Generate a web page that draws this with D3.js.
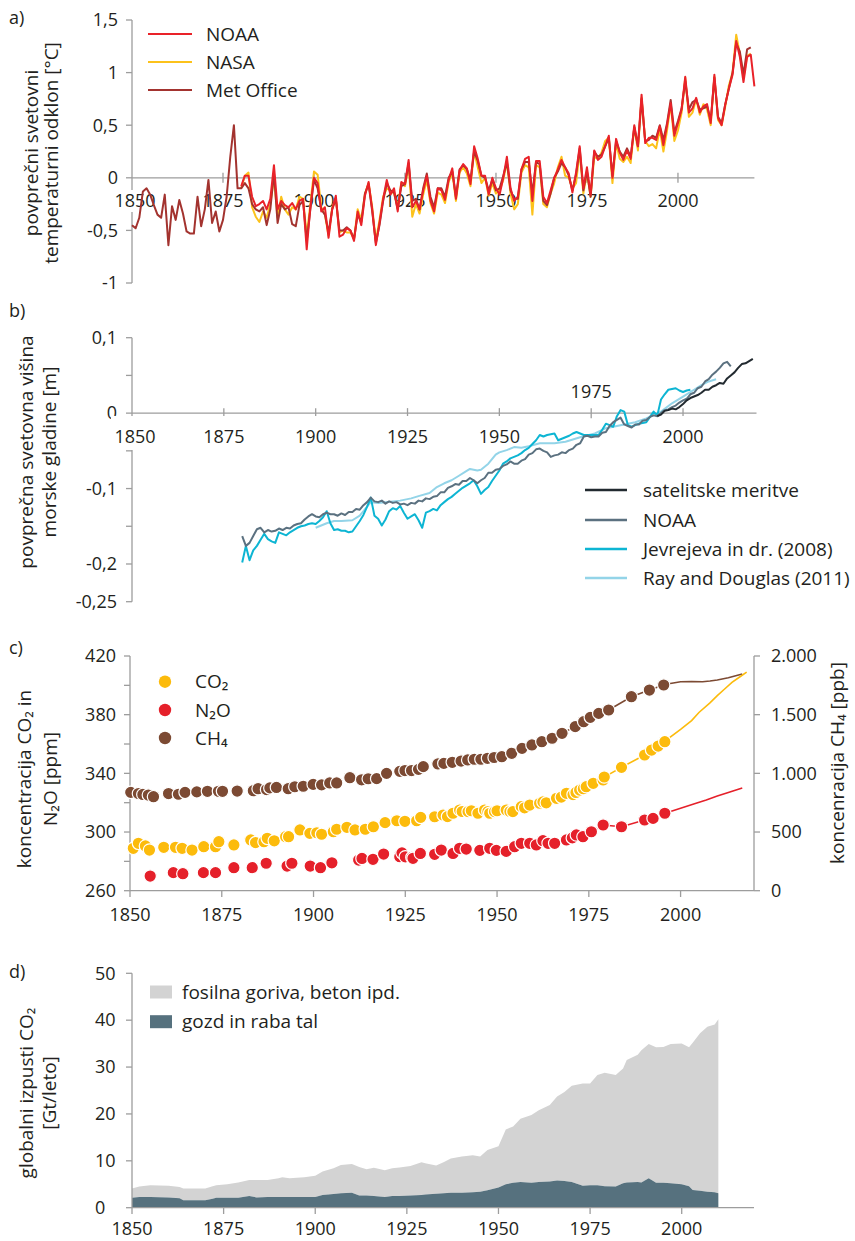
<!DOCTYPE html>
<html><head><meta charset="utf-8">
<script src="https://cdn.jsdelivr.net/npm/d3@7"></script>
<style>
body{margin:0;background:#fff;}
text{font-family:"Open Sans","Noto Sans",sans-serif;fill:#231f20;}
</style></head><body>
<svg id="c" width="855" height="1241"></svg>
<script>
// ---------- Panel a: temperature anomaly ----------
const tempStartMet = 1850;
const tempStartUS = 1880;
const metOffice = [
 -0.45,-0.48,-0.38,-0.13,-0.10,-0.16,-0.26,-0.35,-0.38,-0.16,
 -0.64,-0.27,-0.40,-0.21,-0.34,-0.51,-0.53,-0.53,-0.18,-0.46,
 -0.30,-0.02,-0.43,-0.32,-0.51,-0.40,-0.18,0.20,0.50,-0.10,
 -0.10,-0.05,-0.10,-0.25,-0.30,-0.32,-0.28,-0.45,-0.30,0.05,
 -0.43,-0.25,-0.30,-0.28,-0.44,-0.46,-0.26,-0.22,-0.60,-0.30,
 -0.02,-0.10,-0.30,-0.35,-0.52,-0.30,-0.20,-0.50,-0.50,-0.47,
 -0.50,-0.58,-0.35,-0.42,-0.15,-0.06,-0.32,-0.62,-0.45,-0.22,
 -0.05,-0.12,-0.14,-0.30,-0.08,-0.06,0.14,-0.22,-0.20,-0.30,
 -0.10,0.04,-0.18,-0.28,-0.10,-0.10,-0.18,0.00,0.06,-0.18,
 0.08,0.12,0.08,-0.02,0.25,0.16,0.02,0.00,-0.12,-0.02,
 -0.12,-0.10,0.02,0.15,-0.12,-0.20,-0.20,0.08,0.15,0.15,
 -0.15,0.15,0.13,-0.22,-0.26,-0.15,0.00,0.06,0.14,0.10,
 0.02,-0.12,0.03,0.28,-0.12,0.06,-0.18,0.25,0.20,0.22,
 0.30,0.38,0.02,0.35,0.25,0.20,0.28,0.20,0.48,0.30,
 0.75,0.35,0.36,0.40,0.38,0.50,0.36,0.52,0.74,0.43,
 0.54,0.66,0.92,0.65,0.72,0.74,0.65,0.66,0.68,0.55,
 0.95,0.58,0.52,0.70,0.85,1.00,1.28,1.20,0.98,1.22,
 1.24];
const nasa = [
 -0.10,0.02,0.05,-0.28,-0.37,-0.42,-0.32,-0.38,-0.25,0.00,
 -0.38,-0.18,-0.30,-0.35,-0.28,-0.30,-0.18,-0.20,-0.55,-0.25,
 0.06,0.03,-0.28,-0.35,-0.55,-0.28,-0.20,-0.52,-0.50,-0.52,
 -0.52,-0.58,-0.30,-0.40,-0.15,-0.05,-0.28,-0.60,-0.40,-0.18,
 -0.10,-0.12,-0.15,-0.28,-0.05,-0.08,0.12,-0.37,-0.25,-0.34,
 -0.16,-0.02,-0.24,-0.34,-0.14,-0.16,-0.24,-0.04,0.05,-0.22,
 0.05,0.10,0.04,-0.08,0.25,0.10,-0.05,0.00,-0.17,-0.05,
 -0.15,-0.12,-0.02,0.15,-0.15,-0.30,-0.25,0.05,0.12,0.10,
 -0.35,0.12,0.10,-0.25,-0.28,-0.15,-0.05,0.10,0.20,0.02,
 0.00,-0.10,-0.05,0.25,-0.15,0.05,-0.18,0.20,0.18,0.24,
 0.35,0.38,-0.05,0.33,0.18,0.15,0.20,0.14,0.48,0.26,
 0.76,0.35,0.30,0.32,0.28,0.46,0.25,0.45,0.70,0.35,
 0.45,0.62,0.95,0.58,0.62,0.75,0.60,0.70,0.65,0.50,
 0.96,0.55,0.50,0.68,0.88,1.00,1.36,1.18,0.95,1.16,
 1.18];
const noaa = [
 -0.08,0.02,0.02,-0.18,-0.27,-0.25,-0.22,-0.30,-0.20,0.12,
 -0.30,-0.22,-0.26,-0.28,-0.24,-0.30,-0.22,-0.20,-0.68,-0.28,
 0.00,-0.05,-0.32,-0.28,-0.57,-0.30,-0.17,-0.56,-0.54,-0.48,
 -0.50,-0.60,-0.32,-0.45,-0.17,-0.04,-0.30,-0.64,-0.43,-0.20,
 -0.02,-0.16,-0.10,-0.32,-0.04,-0.06,0.17,-0.28,-0.22,-0.30,
 -0.12,0.02,-0.22,-0.32,-0.10,-0.12,-0.21,-0.02,0.09,-0.20,
 0.07,0.13,0.09,-0.06,0.30,0.18,0.02,0.02,-0.16,0.00,
 -0.10,-0.16,0.00,0.20,-0.10,-0.22,-0.18,0.08,0.18,0.20,
 -0.22,0.16,0.16,-0.18,-0.24,-0.12,0.00,0.08,0.17,0.10,
 0.04,-0.14,0.05,0.30,-0.10,0.10,-0.16,0.26,0.17,0.20,
 0.30,0.40,0.00,0.37,0.24,0.17,0.26,0.18,0.50,0.30,
 0.79,0.33,0.38,0.38,0.36,0.49,0.31,0.50,0.71,0.40,
 0.52,0.65,0.96,0.62,0.66,0.76,0.62,0.68,0.70,0.52,
 0.98,0.57,0.50,0.70,0.85,0.98,1.30,1.15,0.91,1.15,
 1.17,0.87];
const tempTicks = [1.5,1,0.5,0,-0.5,-1];
const tempTickLabels = ["1,5","1","0,5","0","-0,5","-1"];
const yearTicks = [1850,1875,1900,1925,1950,1975,2000];

// ---------- Panel b: sea level ----------
const jevYears = [1880,1881,1882,1883,1884,1885,1886,1887,1888,1889,1890,1891,1892,1893,1894,1895,1896,1897,1898,1899,1900,1901,1902,1903,1904,1905,1906,1907,1908,1909,1910,1911,1912,1913,1914,1915,1916,1917,1918,1919,1920,1921,1922,1923,1924,1925,1926,1927,1928,1929,1930,1931,1932,1933,1934,1935,1936,1937,1938,1939,1940,1941,1942,1943,1944,1945,1946,1947,1948,1949,1950,1951,1952,1953,1954,1955,1956,1957,1958,1959,1960,1961,1962,1963,1964,1965,1966,1967,1968,1969,1970,1971,1972,1973,1974,1975,1976,1977,1978,1979,1980,1981,1982,1983,1984,1985,1986,1987,1988,1989,1990,1991,1992,1993,1994,1995,1996,1997,1998,1999,2000,2001,2002];
const jevValues = [-0.198,-0.176,-0.195,-0.182,-0.176,-0.168,-0.160,-0.167,-0.170,-0.172,-0.158,-0.160,-0.162,-0.158,-0.155,-0.152,-0.150,-0.149,-0.147,-0.146,-0.147,-0.143,-0.138,-0.130,-0.146,-0.155,-0.154,-0.156,-0.156,-0.158,-0.157,-0.150,-0.143,-0.135,-0.124,-0.112,-0.136,-0.140,-0.149,-0.141,-0.130,-0.126,-0.128,-0.123,-0.132,-0.140,-0.137,-0.134,-0.142,-0.152,-0.132,-0.130,-0.127,-0.129,-0.122,-0.118,-0.114,-0.111,-0.107,-0.103,-0.099,-0.096,-0.093,-0.089,-0.097,-0.107,-0.102,-0.098,-0.090,-0.083,-0.076,-0.067,-0.064,-0.060,-0.058,-0.056,-0.053,-0.049,-0.046,-0.041,-0.036,-0.029,-0.031,-0.029,-0.028,-0.027,-0.036,-0.034,-0.032,-0.030,-0.027,-0.025,-0.027,-0.029,-0.029,-0.029,-0.029,-0.029,-0.022,-0.014,-0.016,-0.018,-0.004,0.004,0.002,-0.016,-0.018,-0.016,-0.014,-0.013,-0.012,-0.005,0.002,-0.003,0.018,0.025,0.031,0.032,0.033,0.030,0.028,0.030,0.031];
const slNoaaYears = [1880,1881,1882,1883,1884,1885,1886,1887,1888,1889,1890,1891,1892,1893,1894,1895,1896,1897,1898,1899,1900,1901,1902,1903,1904,1905,1906,1907,1908,1909,1910,1911,1912,1913,1914,1915,1916,1917,1918,1919,1920,1921,1922,1923,1924,1925,1926,1927,1928,1929,1930,1931,1932,1933,1934,1935,1936,1937,1938,1939,1940,1941,1942,1943,1944,1945,1946,1947,1948,1949,1950,1951,1952,1953,1954,1955,1956,1957,1958,1959,1960,1961,1962,1963,1964,1965,1966,1967,1968,1969,1970,1971,1972,1973,1974,1975,1976,1977,1978,1979,1980,1981,1982,1983,1984,1985,1986,1987,1988,1989,1990,1991,1992,1993,1994,1995,1996,1997,1998,1999,2000,2001,2002,2003,2004,2005,2006,2007,2008,2009,2010,2011,2012,2013];
const slNoaaValues = [-0.163,-0.176,-0.172,-0.163,-0.154,-0.152,-0.158,-0.155,-0.157,-0.156,-0.153,-0.155,-0.152,-0.153,-0.149,-0.147,-0.146,-0.141,-0.137,-0.134,-0.137,-0.138,-0.134,-0.132,-0.134,-0.134,-0.136,-0.133,-0.135,-0.131,-0.131,-0.127,-0.128,-0.122,-0.118,-0.112,-0.117,-0.118,-0.116,-0.120,-0.117,-0.119,-0.118,-0.121,-0.120,-0.122,-0.119,-0.120,-0.116,-0.117,-0.113,-0.114,-0.111,-0.110,-0.105,-0.105,-0.099,-0.097,-0.094,-0.095,-0.090,-0.090,-0.086,-0.089,-0.093,-0.089,-0.086,-0.079,-0.079,-0.075,-0.074,-0.070,-0.068,-0.064,-0.067,-0.067,-0.063,-0.061,-0.055,-0.053,-0.048,-0.047,-0.050,-0.052,-0.058,-0.056,-0.055,-0.052,-0.053,-0.049,-0.047,-0.042,-0.040,-0.031,-0.030,-0.032,-0.031,-0.031,-0.026,-0.025,-0.017,-0.012,-0.009,-0.006,-0.015,-0.017,-0.019,-0.015,-0.015,-0.010,-0.009,-0.005,-0.003,-0.004,0.000,0.004,0.005,0.008,0.010,0.014,0.017,0.019,0.025,0.027,0.033,0.035,0.042,0.045,0.051,0.055,0.060,0.066,0.068,0.062];
const rayYears = [1900,1903,1905,1907,1910,1912,1914,1915,1917,1919,1921,1923,1926,1928,1931,1933,1935,1937,1939,1941,1942,1944,1945,1947,1949,1950,1952,1954,1956,1958,1961,1965,1968,1972,1976,1979,1983,1987,1990,1994,1997,2000,2003,2005,2007,2009];
const rayValues = [-0.152,-0.146,-0.143,-0.143,-0.142,-0.136,-0.124,-0.118,-0.119,-0.118,-0.117,-0.116,-0.113,-0.110,-0.106,-0.098,-0.093,-0.089,-0.083,-0.077,-0.074,-0.076,-0.075,-0.067,-0.055,-0.052,-0.049,-0.045,-0.046,-0.044,-0.040,-0.040,-0.038,-0.032,-0.027,-0.020,-0.016,-0.012,-0.007,0.002,0.013,0.022,0.031,0.037,0.042,0.045];
const satYears = [1993,1994,1995,1996,1997,1998,1999,2000,2001,2002,2003,2004,2005,2006,2007,2008,2009,2010,2011,2012,2013,2014,2015,2016,2017,2018,2019];
const satValues = [-0.004,-0.002,0.003,0.004,0.006,0.005,0.008,0.012,0.017,0.020,0.022,0.024,0.027,0.031,0.031,0.035,0.037,0.040,0.039,0.046,0.050,0.054,0.060,0.065,0.066,0.069,0.072];
const seaTicks = [0.1,0.05,0,-0.05,-0.1,-0.15,-0.2,-0.25];
const seaLabelTicks = [0.1,0,-0.1,-0.2,-0.25];
const seaTickLabels = ["0,1","0","-0,1","-0,2","-0,25"];

// ---------- Panel c: concentrations ----------
const co2DotYears = [1850.9,1852.3,1854.2,1855.3,1859.2,1862.4,1864.2,1866.9,1870.1,1873.3,1874.2,1878.3,1882.9,1884.2,1886.5,1887.4,1889.3,1892.4,1893.2,1896.3,1899.0,1900.9,1902.2,1905.4,1906.3,1909.1,1911.3,1914.1,1916.3,1919.5,1922.7,1924.9,1928.1,1929.2,1933,1935.3,1936.5,1938,1939.8,1940.5,1942.1,1943,1944.8,1946.6,1947.5,1948,1949.3,1950,1952.5,1953.5,1954.3,1956.6,1957.5,1958.9,1961.6,1962.5,1963.4,1966.2,1967.5,1968.9,1970.7,1971.5,1972.5,1973.5,1974.3,1976.2,1978.9,1979.2,1983.9,1990.2,1992.1,1993.9,1995.7];
const co2DotValues = [288.9,292.3,290.5,287.7,289.6,289.6,288.9,287.7,290.0,290.0,293.4,291.2,294.6,292.8,293.4,295.7,294.0,296.8,296.8,301.4,299.1,299.5,298.5,300.2,301.9,303.2,301.4,301.9,303.6,306.4,307.7,307.3,307.7,310.0,310.4,311.6,310.5,312.8,315.0,314.0,313.9,314.5,312.8,315.0,314.0,312.8,313.9,314.5,315.0,314.0,313.9,317.3,316.5,318.4,319.6,320.5,319.9,323.0,323.8,326.4,325.5,327.0,328.6,329.5,330.9,333.2,335.5,337.5,344.1,352.5,355.9,358.6,361.6];
const co2LineYears = [1996,2000,2003,2005,2008,2010,2012,2014,2016,2018];
const co2LineValues = [362.5,370,376,381.5,388,393,397.5,402,405.5,409];
const n2oDotYears = [1855.5,1861.8,1864.4,1870,1873.3,1878.3,1883.3,1887.1,1892.8,1894.1,1899.1,1901.9,1905,1912.3,1913.2,1916.2,1919.1,1923.5,1924.1,1925,1926.8,1927.1,1929.1,1933,1934.8,1938,1939.8,1941.6,1945.3,1948,1949.8,1952.5,1954.8,1956.6,1958.9,1960.7,1962.5,1963.9,1965.7,1968.9,1970.5,1971.6,1973.4,1975.7,1978.9,1983.9,1990.2,1992.5,1995.7];
const n2oDotValues = [270,272.3,271.6,272.3,272.3,275.7,275.7,278.7,276.8,278.7,276.8,275.7,279,280.9,282,281.4,285,283.2,285.8,283.1,282.7,282.1,285.4,284.8,287.7,285.4,288.9,288.4,287.5,288.9,287.5,286.8,290,292.3,292.3,291.2,294.1,292.3,292.3,294.6,296,298,296.8,300.2,304.8,303.6,308.2,309.3,312.8];
const n2oLineYears = [1996,2000,2004,2007,2010,2013,2016.8];
const n2oLineValues = [313,316.2,319.5,321.8,324.5,327,330];
const ch4DotYears = [1850.2,1852.3,1853.5,1855,1856.4,1860.5,1863.2,1865,1868.2,1871.1,1874.1,1875.2,1879.2,1883.6,1884.9,1887.2,1888.1,1889.9,1893.1,1894.9,1897.2,1899.9,1902.2,1904.4,1906.3,1909.9,1913.1,1914.9,1917.2,1919.9,1923.5,1924.9,1926.7,1928.6,1929.9,1933.9,1935.5,1937.8,1940.2,1942,1943.8,1945.6,1947.4,1949.2,1951.3,1954,1956.8,1959.5,1962.2,1965,1967.7,1971.3,1973.6,1975.4,1977.7,1980.4,1986.6,1991.5,1995.4];
const ch4DotValues = [838,828,820,815,801,828,822,838,842,847,847,847,849,852,869,862,876,880,869,886,890,906,902,918,918,963,945,954,955,1000,1017,1024,1024,1034,1057,1080,1085,1094,1105,1114,1120,1120,1128,1135,1142,1171,1213,1242,1270,1299,1341,1398,1440,1477,1511,1540,1653,1710,1753];
const ch4LineYears = [1996,2000,2003,2006,2008,2010,2013,2016.8];
const ch4LineValues = [1760,1781,1783,1781,1787,1795,1815,1847];
const ppmTicks = [260,280,300,320,340,360,380,400,420];
const ppmLabelTicks = [260,300,340,380,420];
const ppbTicks = [0,500,1000,1500,2000];
const ppbTickLabels = ["0","500","1.000","1.500","2.000"];

// ---------- Panel d: emissions ----------
const emisYears = [1850,1852,1855,1860,1863,1864,1870,1872,1873,1876,1879,1882,1884,1887,1890,1891,1893,1897,1900,1902,1905,1907,1910,1912,1914,1916,1919,1921,1923,1926,1929,1930,1933,1935,1937,1940,1943,1945,1947,1950,1952,1954,1956,1959,1961,1964,1966,1968,1970,1973,1975,1977,1979,1982,1984,1985,1988,1989,1991,1993,1995,1997,2000,2002,2003,2005,2007,2009,2010];
const emisLand = [2.1,2.3,2.3,2.2,2.0,1.6,1.6,1.9,2.1,2.1,2.1,2.5,2.2,2.3,2.3,2.3,2.3,2.3,2.3,2.7,2.9,3.1,3.2,2.6,2.6,2.5,2.3,2.5,2.5,2.6,2.7,2.8,3.0,3.1,3.2,3.2,3.3,3.4,3.7,4.3,5.0,5.3,5.5,5.3,5.5,5.6,5.8,5.7,5.5,4.7,4.8,4.8,4.6,4.5,5.2,5.4,5.5,5.4,6.3,5.3,5.3,5.2,5.0,4.6,3.8,3.6,3.4,3.3,3.1];
const emisFossil = [2.0,2.2,2.5,2.5,2.4,2.5,2.5,2.7,2.7,2.9,3.3,3.4,3.7,3.6,4.0,4.2,4.0,4.2,4.5,5.0,5.5,6.0,6.1,6.1,5.6,6.0,5.7,5.9,6.1,6.3,7.0,6.7,6.0,6.6,7.3,7.7,7.9,7.5,8.6,8.8,11.7,12.0,13.5,14.5,15.3,16.3,17.9,19.0,20.5,21.8,21.7,23.5,24.2,23.8,24.5,26.1,27.1,28.2,28.6,28.9,29.0,29.7,30.0,29.6,31.4,33.6,35.2,35.8,37.1];
const emisTicks = [0,10,20,30,40,50];

// ---------- drawing ----------
const svg = d3.select("#c");
const AX = "#9d9d9d";
const FS = 18, FT = 19;

function line(g,x1,y1,x2,y2,col,w){
  g.append("line").attr("x1",x1).attr("y1",y1).attr("x2",x2).attr("y2",y2)
   .attr("stroke",col||AX).attr("stroke-width",w||1.3);
}
function text(g,x,y,str,anchor,size){
  return g.append("text").attr("x",x).attr("y",y).attr("dy","0.35em")
   .attr("text-anchor",anchor||"start").attr("font-size",size||FS).text(str);
}
function vtitle(x,yc,str,size){
  svg.append("text").attr("transform",`translate(${x},${yc}) rotate(-90)`)
   .attr("text-anchor","middle").attr("font-size",size||FT).text(str);
}

// panel letters
[["a)",18],["b)",311],["c)",648],["d)",972]].forEach(([t,y])=>text(svg,9,y,t,"start",FS));

// ===== Panel a =====
const gA = svg.append("g");
const xA = d3.scaleLinear([1850,2021],[132,754.4]);
const yA = d3.scaleLinear([-1,1.5],[283,20]);
line(gA,xA(1850),yA(-1),xA(1850),yA(1.5));
tempTicks.forEach((t,i)=>{
  line(gA,126,yA(t),132,yA(t));
  text(gA,118,yA(t),tempTickLabels[i],"end");
});
line(gA,xA(1850),yA(0),754.4,yA(0));
gA.append("rect").attr("x",112).attr("y",190).attr("width",46).attr("height",22).attr("fill","#fff");
yearTicks.forEach(y=>{
  if(y>1850) line(gA,xA(y),yA(0)-5,xA(y),yA(0)+5);
  text(gA,xA(y)+(y===1850?3:0),201,String(y),"middle");
});
vtitle(38,153,"povprečni svetovni");
vtitle(58,153,"temperaturni odklon [°C]");
const lnA = start => d3.line().x((d,i)=>xA(start+i)).y(d=>yA(d));
gA.append("path").attr("d",lnA(tempStartUS)(nasa)).attr("fill","none").attr("stroke","#fcc21b").attr("stroke-width",2).attr("stroke-linejoin","round");
gA.append("path").attr("d",lnA(tempStartMet)(metOffice)).attr("fill","none").attr("stroke","#a3332f").attr("stroke-width",2).attr("stroke-linejoin","round");
gA.append("path").attr("d",lnA(tempStartUS)(noaa)).attr("fill","none").attr("stroke","#e92229").attr("stroke-width",2).attr("stroke-linejoin","round");
[["NOAA","#e92229",34],["NASA","#fcc21b",62],["Met Office","#a3332f",90]].forEach(([n,c,y])=>{
  line(gA,148,y,192,y,c,2);
  text(gA,206,y,n,"start",FT);
});

// ===== Panel b =====
const gB = svg.append("g");
const xB = d3.scaleLinear([1850,2020],[132,756.5]);
const yB = d3.scaleLinear([-0.25,0.1],[601.7,337.7]);
line(gB,132,yB(-0.25),132,yB(0.1));
seaTicks.forEach(t=>line(gB,126,yB(t),132,yB(t)));
seaLabelTicks.forEach((t,i)=>text(gB,117,yB(t),seaTickLabels[i],"end"));
line(gB,132,yB(0),756.5,yB(0));
yearTicks.forEach(y=>{
  if(y>1850) line(gB,xB(y),yB(0)-5,xB(y),yB(0)+5);
  const above = (y===1975);
  const cy = above ? 392 : 437;
  const cx = xB(y)+(y===1850?3:0);
  if(!above) gB.append("rect").attr("x",cx-24).attr("y",416).attr("width",48).attr("height",34).attr("fill","#fff");
  text(gB,cx,cy,String(y),"middle");
});
vtitle(33,452,"povprečna svetovna višina");
vtitle(56,452,"morske gladine [m]");
const lnB = d3.line().x(d=>xB(d[0])).y(d=>yB(d[1]));
const seaSeries = [
  [rayYears,rayValues,"#93d4e8"],
  [jevYears,jevValues,"#0db5d3"],
  [slNoaaYears,slNoaaValues,"#5b7180"],
  [satYears,satValues,"#222a30"]
];
seaSeries.forEach(([ys,vs,c])=>{
  gB.append("path").attr("d",lnB(ys.map((y,i)=>[y,vs[i]]))).attr("fill","none")
    .attr("stroke",c).attr("stroke-width",2).attr("stroke-linejoin","round");
});
[["satelitske meritve","#222a30",490],["NOAA","#5b7180",520],["Jevrejeva in dr. (2008)","#0db5d3",549],["Ray and Douglas (2011)","#93d4e8",578]].forEach(([n,c,y])=>{
  line(gB,585,y,627,y,c,2.5);
  text(gB,643,y,n,"start",FT);
});

// ===== Panel c =====
const gC = svg.append("g");
const xC = d3.scaleLinear([1850,2020],[130,754]);
const yCL = d3.scaleLinear([260,420],[890.7,656]);
const yCR = d3.scaleLinear([0,2000],[890.7,656]);
line(gC,130,656,130,890.7);
ppmTicks.forEach(t=>line(gC,124,yCL(t),130,yCL(t)));
ppmLabelTicks.forEach(t=>text(gC,116,yCL(t),String(t),"end"));
line(gC,754,656,754,890.7);
ppbTicks.forEach((t,i)=>{ line(gC,754,yCR(t),760,yCR(t)); text(gC,771,yCR(t),ppbTickLabels[i],"start"); });
line(gC,130,890.7,754,890.7);
yearTicks.forEach(y=>{ line(gC,xC(y),890.7,xC(y),897); text(gC,xC(y),915,String(y),"middle"); });
vtitle(31,779,"koncentracija CO₂ in");
vtitle(57,779,"N₂O [ppm]");
vtitle(844,763,"koncenracija CH₄ [ppb]");
const gases = [
  [ch4DotYears,ch4DotValues,ch4LineYears,ch4LineValues,yCR,"#7c4a33"],
  [co2DotYears,co2DotValues,co2LineYears,co2LineValues,yCL,"#fcbb0c"],
  [n2oDotYears,n2oDotValues,n2oLineYears,n2oLineValues,yCL,"#e5202a"]
];
gases.forEach(([dy,dv,ly,lv,ys,c])=>{
  const pts = dy.map((y,i)=>[y,dv[i]]).filter(p=>p[0]>=1965).concat(ly.map((y,i)=>[y,lv[i]]));
  gC.append("path").attr("d",d3.line().x(d=>xC(d[0])).y(d=>ys(d[1]))(pts))
    .attr("fill","none").attr("stroke",c).attr("stroke-width",1.6);
  gC.selectAll(null).data(dy.map((y,i)=>[y,dv[i]])).join("circle")
    .attr("cx",d=>xC(d[0])).attr("cy",d=>ys(d[1])).attr("r",6.2)
    .attr("fill",c).attr("stroke","#fff").attr("stroke-width",1.2);
});
[["CO₂","#fcbb0c",681.7],["N₂O","#e5202a",710],["CH₄","#7c4a33",738]].forEach(([n,c,y])=>{
  gC.append("circle").attr("cx",165).attr("cy",y).attr("r",6.2).attr("fill",c);
  text(gC,195,y,n,"start",FT);
});

// ===== Panel d =====
const gD = svg.append("g");
const xD = d3.scaleLinear([1850,2020],[132,755]);
const yD = d3.scaleLinear([0,50],[1207.7,973.3]);
const emisRows = emisYears.map((y,i)=>({year:y,land:emisLand[i],fossil:emisFossil[i]}));
const stack = d3.stack().keys(["land","fossil"])(emisRows);
const area = d3.area().x(d=>xD(d.data.year)).y0(d=>yD(d[0])).y1(d=>yD(d[1]));
gD.append("path").attr("d",area(stack[1])).attr("fill","#d3d3d3");
gD.append("path").attr("d",area(stack[0])).attr("fill","#56717e");
line(gD,132,973.3,132,1207.7);
emisTicks.forEach(t=>{ line(gD,126,yD(t),132,yD(t)); text(gD,95,yD(t),String(t),"start"); });
line(gD,132,1207.7,754,1207.7);
yearTicks.forEach(y=>{ line(gD,xD(y),1207.7,xD(y),1214); text(gD,xD(y),1229,String(y),"middle"); });
vtitle(33,1093,"globalni izpusti CO₂");
vtitle(56,1093,"[Gt/leto]");
[["fosilna goriva, beton ipd.","#d3d3d3",992],["gozd in raba tal","#56717e",1021.7]].forEach(([n,c,y])=>{
  gD.append("rect").attr("x",150).attr("y",y-6.5).attr("width",22).attr("height",13).attr("fill",c);
  text(gD,182,y,n,"start",FT);
});
</script>
</body></html>
